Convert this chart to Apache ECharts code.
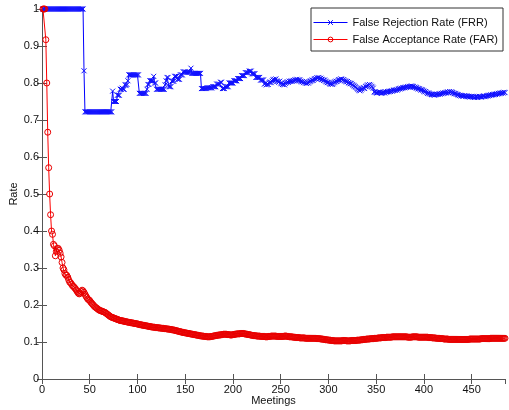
<!DOCTYPE html>
<html>
<head>
<meta charset="utf-8">
<script src="https://cdn.jsdelivr.net/npm/echarts@6/dist/echarts.min.js"></script>
<style>
html,body{margin:0;padding:0;background:#fff;}
#chart{width:509px;height:410px;}
</style>
</head>
<body>
<div id="chart"></div>
<script>
// Rates per meeting, in thousandths (meeting 1 .. 485)
const frrPermille = [
1000,1000,1000,1000,1000,1000,1000,1000,1000,1000,
1000,1000,1000,1000,1000,1000,1000,1000,1000,1000,
1000,1000,1000,1000,1000,1000,1000,1000,1000,1000,
1000,1000,1000,1000,1000,1000,1000,1000,1000,1000,
1000,1000,1000,833,722,722,722,722,722,722,
722,722,722,722,722,722,722,722,722,722,
722,722,722,722,722,722,722,722,722,722,
722,722,722,778,750,750,750,750,767,767,
767,783,783,786,783,783,796,793,796,806,
822,822,822,822,822,822,822,822,822,822,
822,772,772,772,772,772,772,772,772,783,
796,796,806,806,806,806,818,800,800,783,
783,783,783,783,783,783,783,783,795,806,
815,815,790,790,790,805,805,805,818,818,
818,810,810,810,822,822,822,830,830,830,
829,829,829,829,829,840,826,826,826,826,
826,826,826,826,826,826,785,785,785,785,
785,785,787,787,787,787,787,787,790,790,
790,790,797,797,797,797,802,802,785,785,
785,790,790,790,790,800,800,800,800,800,
806,806,806,806,812,812,812,812,820,820,
820,820,828,828,828,828,832,832,832,825,
825,825,825,815,815,815,815,815,808,808,
808,808,797,799,795,797,796,801,803,801,
805,808,810,808,811,806,804,802,805,800,
798,796,797,795,799,801,803,802,805,804,
806,804,807,806,809,807,810,808,806,809,
805,803,804,801,803,800,799,801,800,803,
805,806,808,807,810,812,811,814,813,815,
812,813,810,809,807,808,805,803,801,802,
799,797,798,796,798,801,803,805,804,807,
809,808,811,810,808,809,806,805,803,804,
801,800,798,799,796,794,792,790,788,785,
783,781,779,781,784,786,788,785,790,792,
795,793,796,794,791,789,786,776,775,774,
773,775,774,776,773,772,774,775,773,776,
775,777,776,778,777,779,778,780,781,780,
782,781,783,785,784,786,785,787,788,787,
789,788,790,789,791,790,792,791,790,788,
789,787,786,784,785,783,781,782,780,778,
776,777,774,772,773,771,770,769,768,769,
767,768,769,770,769,771,770,772,771,773,
772,774,773,775,776,774,777,775,776,774,
773,771,772,770,769,768,766,767,765,766,
764,765,766,764,765,763,764,762,763,764,
762,763,761,762,763,761,762,764,763,762,
763,764,765,763,764,766,765,767,766,768,
767,769,768,770,769,771,770,772,771,773,
772,774,773,775,774
];
const farPermille = [
1000,1000,1000,917,800,667,571,500,444,400,
391,364,360,333,345,352,353,348,340,330,
315,300,295,285,281,280,275,268,262,260,
256,252,250,247,244,240,236,232,230,232,
236,240,238,234,229,224,220,216,214,212,
208,205,202,199,196,194,192,190,188,186,
185,184,183,182,181,180,178,176,174,172,
170,168,167,166,165,164,163,162,161,160,
159,158,158,157,157,156,155,155,154,154,
153,153,152,152,151,151,150,150,149,149,
148,147,147,146,146,145,145,144,144,143,
143,142,142,141,141,140,140,140,139,139,
139,138,138,138,137,137,137,136,136,136,
135,135,135,134,134,133,133,132,132,131,
130,130,129,128,128,127,126,126,125,125,
124,124,123,123,122,122,121,121,120,120,
119,119,118,118,117,117,116,116,116,115,
115,115,114,114,114,114,115,115,116,116,
117,117,118,118,119,119,119,120,120,121,
121,121,121,120,120,120,119,119,119,120,
120,121,121,122,122,122,122,123,123,123,
123,122,122,121,121,120,120,119,119,118,
118,117,117,117,116,116,116,116,115,115,
115,115,115,114,114,114,115,115,115,116,
116,116,116,116,116,115,115,115,115,115,
115,115,115,116,116,116,115,115,114,114,
114,114,113,113,113,112,112,112,112,111,
111,111,111,111,111,110,110,110,110,110,
110,110,110,110,110,110,110,109,109,109,
109,108,108,108,107,107,106,106,106,105,
105,105,104,104,104,103,103,103,103,103,
103,103,103,103,104,104,104,104,103,103,
103,103,103,104,104,104,104,104,104,105,
105,105,105,106,106,106,107,107,107,108,
108,108,108,109,109,109,109,110,110,110,
110,111,111,111,111,112,112,112,112,112,
113,113,113,113,113,113,114,114,114,114,
114,114,114,114,114,114,114,114,114,114,
114,114,113,113,113,113,113,114,114,114,
114,114,114,113,113,113,113,113,113,113,
113,113,113,113,112,112,112,112,111,111,
111,111,110,110,110,110,109,109,109,109,
108,108,108,108,108,107,107,107,107,107,
107,107,107,107,107,107,107,107,107,107,
107,107,107,107,107,107,107,108,108,108,
108,108,108,108,108,108,108,108,108,109,
109,109,109,109,109,109,109,109,109,110,
110,110,110,110,110,110,110,110,110,110,
110,110,110,110,110
];
const seriesNames = ['False Rejection Rate (FRR)', 'False Acceptance Rate (FAR)'];
const xTitle = 'Meetings';
const yTitle = 'Rate';
const xMax = 485;

const toPairs = arr => arr.map((v, i) => [i + 1, v / 1000]);

const axisColor = '#555';
const font = 'Liberation Sans, Arial, sans-serif';

const chart = echarts.init(document.getElementById('chart'), null, {renderer: 'canvas'});

const xBase = {
  type: 'value', min: 0, max: xMax, interval: 50,
  axisLine: {show: true, lineStyle: {color: axisColor, width: 1}},
  axisTick: {show: true, inside: true, length: 5, lineStyle: {color: axisColor}},
  splitLine: {show: false}
};
const yBase = {
  type: 'value', min: 0, max: 1, interval: 0.1,
  axisLine: {show: true, lineStyle: {color: axisColor, width: 1}},
  axisTick: {show: true, inside: true, length: 5, lineStyle: {color: axisColor}},
  splitLine: {show: false}
};

chart.setOption({
  animation: false,
  backgroundColor: '#fff',
  grid: {left: 42, right: 4, top: 9, bottom: 31, containLabel: false, outerBoundsMode: 'none'},
  legend: {
    data: seriesNames,
    orient: 'vertical',
    left: 311, top: 8,
    padding: [8, 5, 5, 2],
    itemGap: 4,
    itemWidth: 34,
    itemHeight: 6,
    backgroundColor: '#fff',
    borderColor: '#333',
    borderWidth: 1,
    borderRadius: 0,
    lineStyle: {width: 1},
    itemStyle: {borderWidth: 1},
    textStyle: {fontFamily: font, fontSize: 11, color: '#111', lineHeight: 13}
  },
  xAxis: [
    Object.assign({}, xBase, {
      position: 'bottom',
      name: xTitle, nameLocation: 'middle', nameGap: 16, nameMoveOverlap: false,
      nameTextStyle: {fontFamily: font, fontSize: 11, color: '#111'},
      axisLabel: {show: true, fontFamily: font, fontSize: 11, color: '#111', margin: 5, showMaxLabel: false,
        formatter: v => (v % 50 === 0 ? String(v) : '')}
    }),
    Object.assign({}, xBase, {position: 'top', axisLabel: {show: false}})
  ],
  yAxis: [
    Object.assign({}, yBase, {
      position: 'left',
      name: yTitle, nameLocation: 'middle', nameGap: 23, nameMoveOverlap: false,
      nameTextStyle: {fontFamily: font, fontSize: 11, color: '#111'},
      axisLabel: {show: true, fontFamily: font, fontSize: 11, color: '#111', margin: 3,
        formatter: v => String(Math.round(v * 10) / 10)}
    }),
    Object.assign({}, yBase, {position: 'right', axisLabel: {show: false}})
  ],
  series: [
    {
      name: seriesNames[0],
      type: 'line',
      data: toPairs(frrPermille),
      xAxisIndex: 0, yAxisIndex: 0,
      symbol: 'path://M0,0L8,8M8,0L0,8',
      symbolSize: 5,
      showAllSymbol: true,
      clip: false,
      lineStyle: {color: '#0000ff', width: 1},
      itemStyle: {color: 'rgba(0,0,0,0)', borderColor: '#1010ff', borderWidth: 1},
      emphasis: {disabled: true}
    },
    {
      name: seriesNames[1],
      type: 'line',
      data: toPairs(farPermille),
      xAxisIndex: 0, yAxisIndex: 0,
      symbol: 'circle',
      symbolSize: 6,
      showAllSymbol: true,
      clip: false,
      lineStyle: {color: '#ff0000', width: 1},
      itemStyle: {color: 'rgba(0,0,0,0)', borderColor: '#e80000', borderWidth: 1},
      emphasis: {disabled: true}
    }
  ]
});
</script>
</body>
</html>
